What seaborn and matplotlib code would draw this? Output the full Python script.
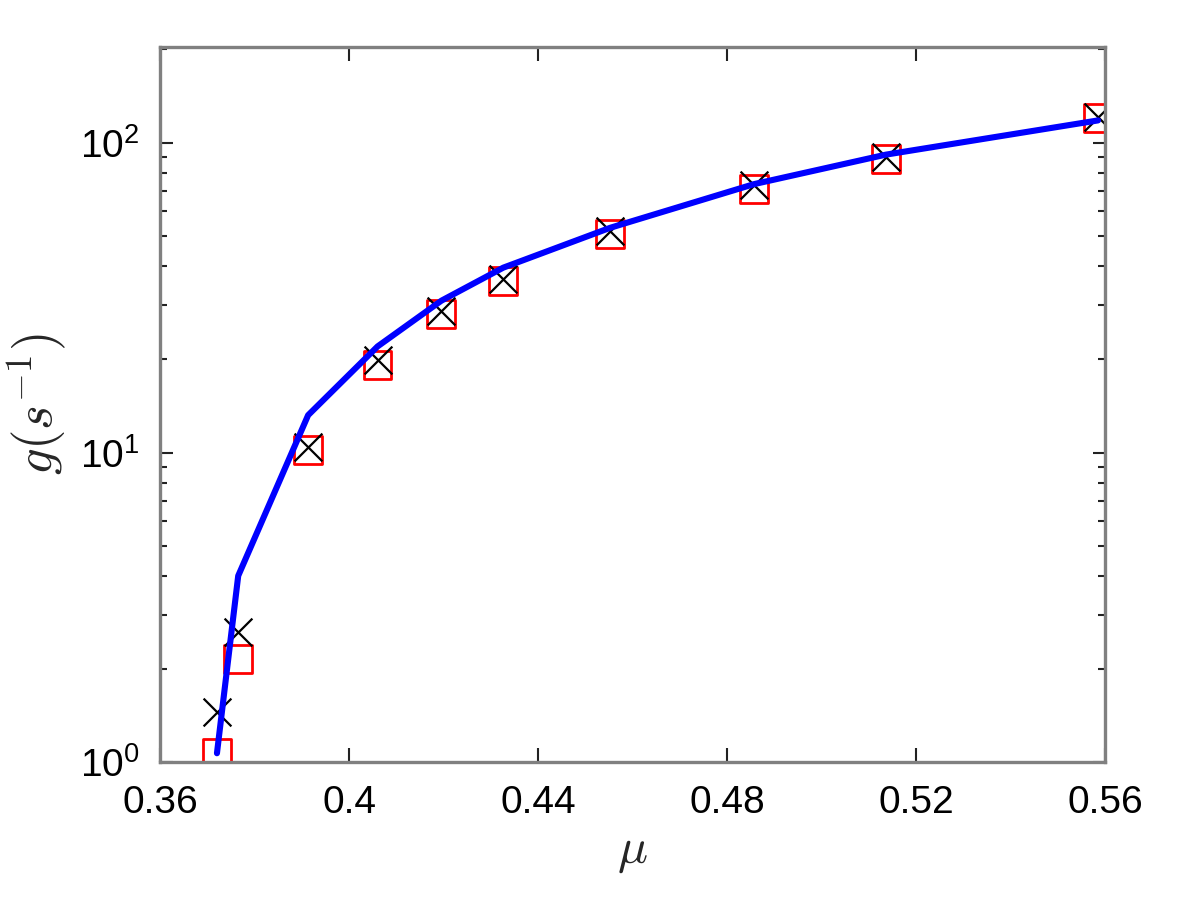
import numpy as np
import pandas as pd
import matplotlib
matplotlib.use("Agg")
import matplotlib.pyplot as plt
import seaborn as sns
from matplotlib.ticker import FixedLocator, FuncFormatter, LogLocator, NullLocator

# values
mu = [0.372, 0.3765, 0.3913, 0.406, 0.4195, 0.4326, 0.4552, 0.4857, 0.5136, 0.5585]
g_square = [1.07, 2.15, 10.2, 19.2, 28.0, 35.8, 50.8, 71.0, 88.8, 120.0]
g_cross = [1.45, 2.63, 10.4, 19.9, 28.6, 36.4, 51.9, 73.0, 90.0, 121.0]
g_line = [1.07, 4.0, 13.2, 22.0, 30.9, 39.5, 53.1, 73.5, 91.5, 118.0]

xticks = [0.36, 0.4, 0.44, 0.48, 0.52, 0.56]
xticklabels = ["0.36", "0.4", "0.44", "0.48", "0.52", "0.56"]

df = pd.DataFrame({"mu": mu, "sq": g_square, "cr": g_cross, "ln": g_line})

sns.set_style("white")
plt.rcParams['font.family'] = ['Liberation Sans', 'DejaVu Sans']
plt.rcParams['mathtext.fontset'] = 'cm'

fig = plt.figure(figsize=(11.96, 8.99), dpi=100)
ax = fig.add_axes([0.134, 0.152, 0.790, 0.796])

sns.scatterplot(data=df, x="mu", y="sq", ax=ax, marker="s", s=400,
                facecolor="none", edgecolor="red", linewidth=2.0, zorder=3, legend=False)
sns.scatterplot(data=df, x="mu", y="cr", ax=ax, marker="x", s=400,
                color="black", linewidth=1.6, zorder=4, legend=False)
sns.lineplot(data=df, x="mu", y="ln", ax=ax, color="blue", linewidth=4.4,
             zorder=5, legend=False)

ax.set_yscale("log")
ax.set_xlim(0.36, 0.56)
ax.set_ylim(1, 204)

ax.xaxis.set_major_locator(FixedLocator(xticks))
ax.set_xticklabels(xticklabels)
ax.xaxis.set_minor_locator(NullLocator())
ax.yaxis.set_major_locator(LogLocator(base=10, numticks=5))
ax.yaxis.set_minor_locator(LogLocator(base=10, subs=np.arange(2, 10), numticks=20))
ax.yaxis.set_major_formatter(FuncFormatter(lambda v, p: r"$\mathregular{10^{%d}}$" % round(np.log10(v))))

ax.tick_params(which="both", direction="in", left=True, bottom=True, top=True, right=True,
               colors="#222222", labelcolor="black", labelsize=28, width=1.5)
ax.tick_params(axis="x", which="major", length=10, pad=16)
ax.tick_params(axis="y", which="major", length=9, pad=15)
ax.tick_params(which="minor", length=5)
for s in ax.spines.values():
    s.set_color("#808080")
    s.set_linewidth(2.4)
    s.set_zorder(6)

ax.set_xlabel(r"$\mu$", fontsize=36, labelpad=6)
ax.set_ylabel(r"$g(s^{-1})$", fontsize=38, labelpad=8)

fig.savefig("out.png", dpi=100)
